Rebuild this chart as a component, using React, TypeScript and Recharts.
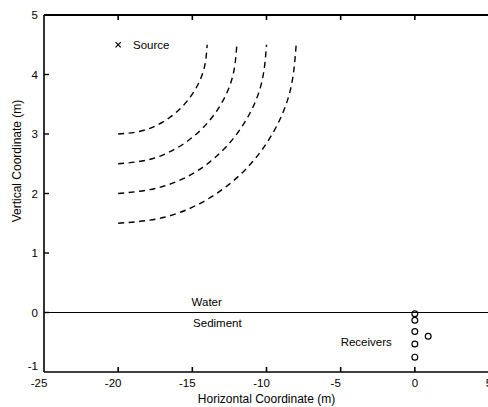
import React from 'react';
import { ComposedChart, Line, Scatter, XAxis, YAxis, ReferenceLine, ReferenceDot } from 'recharts';

const FONT = '"Liberation Sans", Arial, Helvetica, sans-serif';

const xTicks = [-25, -20, -15, -10, -5, 0, 5];
const yTicks = [-1, 0, 1, 2, 3, 4, 5];
const X_MIN = -25;
const X_MAX = 5;
const Y_MIN = -1;
const Y_MAX = 5;

// Dashed wavefronts
const wavefront1 = [
  { x: -20, y: 3.0 }, { x: -18.45, y: 3.05 }, { x: -17.0, y: 3.2 }, { x: -15.76, y: 3.44 },
  { x: -14.8, y: 3.75 }, { x: -14.2, y: 4.11 }, { x: -14.0, y: 4.5 },
];
const wavefront2 = [
  { x: -20, y: 2.5 }, { x: -17.93, y: 2.57 }, { x: -16.0, y: 2.77 }, { x: -14.34, y: 3.09 },
  { x: -13.07, y: 3.5 }, { x: -12.27, y: 3.98 }, { x: -12.0, y: 4.5 },
];
const wavefront3 = [
  { x: -20, y: 2.0 }, { x: -17.41, y: 2.09 }, { x: -15.0, y: 2.33 }, { x: -12.93, y: 2.73 },
  { x: -11.34, y: 3.25 }, { x: -10.34, y: 3.85 }, { x: -10.0, y: 4.5 },
];
const wavefront4 = [
  { x: -20, y: 1.5 }, { x: -16.89, y: 1.6 }, { x: -14.0, y: 1.9 }, { x: -11.51, y: 2.38 },
  { x: -9.61, y: 3.0 }, { x: -8.41, y: 3.72 }, { x: -8.0, y: 4.5 },
];
const wavefronts = [wavefront1, wavefront2, wavefront3, wavefront4];

const sourcePoints = [{ x: -20, y: 4.5 }];
const receiverPoints = [
  { x: 0, y: -0.02 }, { x: 0, y: -0.13 }, { x: 0, y: -0.32 }, { x: 0, y: -0.53 }, { x: 0, y: -0.75 },
  { x: 0.9, y: -0.4 },
];

const annotations = [
  { x: -19.0, y: 4.5, text: 'Source' },
  { x: -15.05, y: 0.17, text: 'Water' },
  { x: -14.95, y: -0.17, text: 'Sediment' },
  { x: -5.0, y: -0.5, text: 'Receivers' },
];

// inward tick-mark anchors along the frame (built from the tick arrays)
const bottomTickMarks = xTicks.slice(1, -1).map((x) => ({ x, y: Y_MIN }));
const topTickMarks = xTicks.slice(1, -1).map((x) => ({ x, y: Y_MAX }));
const leftTickMarks = yTicks.slice(1, -1).map((y) => ({ x: X_MIN, y }));

const TICK_LEN = 5;

const XTick = (props: any) => {
  const { x, y, payload } = props;
  const v = payload.value;
  return (
    <text x={x - (v < 0 ? 5 : 0)} y={y + 10} textAnchor="middle" fontFamily={FONT} fontSize={11.5} fill="#000">
      {String(v)}
    </text>
  );
};

const YTick = (props: any) => {
  const { x, y, payload } = props;
  const v = payload.value;
  return (
    <text x={x} y={y + 4 - (v === -1 ? 6 : 0)} textAnchor="end" fontFamily={FONT} fontSize={11.5} fill="#000">
      {String(v)}
    </text>
  );
};

const UpMark = (props: any) => (
  <line x1={props.cx} y1={props.cy} x2={props.cx} y2={props.cy - TICK_LEN} stroke="#000" strokeWidth={1.6} />
);
const DownMark = (props: any) => (
  <line x1={props.cx} y1={props.cy} x2={props.cx} y2={props.cy + TICK_LEN} stroke="#000" strokeWidth={1.6} />
);
const RightMark = (props: any) => (
  <line x1={props.cx} y1={props.cy} x2={props.cx + TICK_LEN} y2={props.cy} stroke="#000" strokeWidth={1.4} />
);

const Cross = (props: any) => {
  const { cx, cy } = props;
  const s = 2.6;
  return (
    <g stroke="#000" strokeWidth={1.2}>
      <line x1={cx - s} y1={cy - s} x2={cx + s} y2={cy + s} />
      <line x1={cx - s} y1={cy + s} x2={cx + s} y2={cy - s} />
    </g>
  );
};

const Ring = (props: any) => {
  const { cx, cy } = props;
  return <circle cx={cx} cy={cy} r={2.9} fill="none" stroke="#000" strokeWidth={1.2} />;
};

const YLabel = () => (
  <text x={18} y={161} transform="rotate(-90, 18, 161)" textAnchor="middle" dominantBaseline="middle" fontFamily={FONT} fontSize={12} fill="#000">
    Vertical Coordinate (m)
  </text>
);

export default function App() {
  return (
    <div style={{ position: 'absolute', left: 0, top: 0, width: 488, height: 407, overflow: 'hidden', background: '#fff' }}>
      <ComposedChart width={500} height={407} margin={{ top: 15, right: 11, bottom: 0, left: 0 }}>
        <XAxis
          type="number"
          dataKey="x"
          domain={[X_MIN, X_MAX]}
          ticks={xTicks}
          allowDataOverflow
          height={35}
          axisLine={{ stroke: '#000', strokeWidth: 1.6 }}
          tickLine={false}
          tickSize={5}
          tickMargin={0}
          tick={<XTick />}
          interval={0}
          label={{ value: 'Horizontal Coordinate (m)', position: 'insideBottom', offset: 4, fontFamily: FONT, fontSize: 12, fill: '#000' }}
        />
        <YAxis
          type="number"
          domain={[Y_MIN, Y_MAX]}
          ticks={yTicks}
          allowDataOverflow
          width={44}
          axisLine={{ stroke: '#000', strokeWidth: 1.6 }}
          tickLine={false}
          tickSize={5}
          tickMargin={1}
          tick={<YTick />}
          interval={0}
          label={<YLabel />}
        />
        <ReferenceLine y={Y_MAX} stroke="#000" strokeWidth={1.8} ifOverflow="visible" />
        <ReferenceLine y={0} stroke="#000" strokeWidth={1.1} />
        <Scatter data={bottomTickMarks} dataKey="y" shape={<UpMark />} isAnimationActive={false} />
        <Scatter data={topTickMarks} dataKey="y" shape={<DownMark />} isAnimationActive={false} />
        <Scatter data={leftTickMarks} dataKey="y" shape={<RightMark />} isAnimationActive={false} />
        {wavefronts.map((w, i) => (
          <Line key={i} data={w} dataKey="y" type="natural" stroke="#000" strokeWidth={1.4} strokeDasharray="6 4.5" dot={false} activeDot={false} isAnimationActive={false} />
        ))}
        <Scatter data={sourcePoints} dataKey="y" shape={<Cross />} isAnimationActive={false} />
        <Scatter data={receiverPoints} dataKey="y" shape={<Ring />} isAnimationActive={false} />
        {annotations.map((a, i) => (
          <ReferenceDot
            key={'a' + i}
            x={a.x}
            y={a.y}
            r={0}
            shape={(p: any) => (
              <text x={p.cx} y={p.cy} dy={4} textAnchor="start" fontFamily={FONT} fontSize={11.5} fill="#000">
                {a.text}
              </text>
            )}
          />
        ))}
      </ComposedChart>
    </div>
  );
}
